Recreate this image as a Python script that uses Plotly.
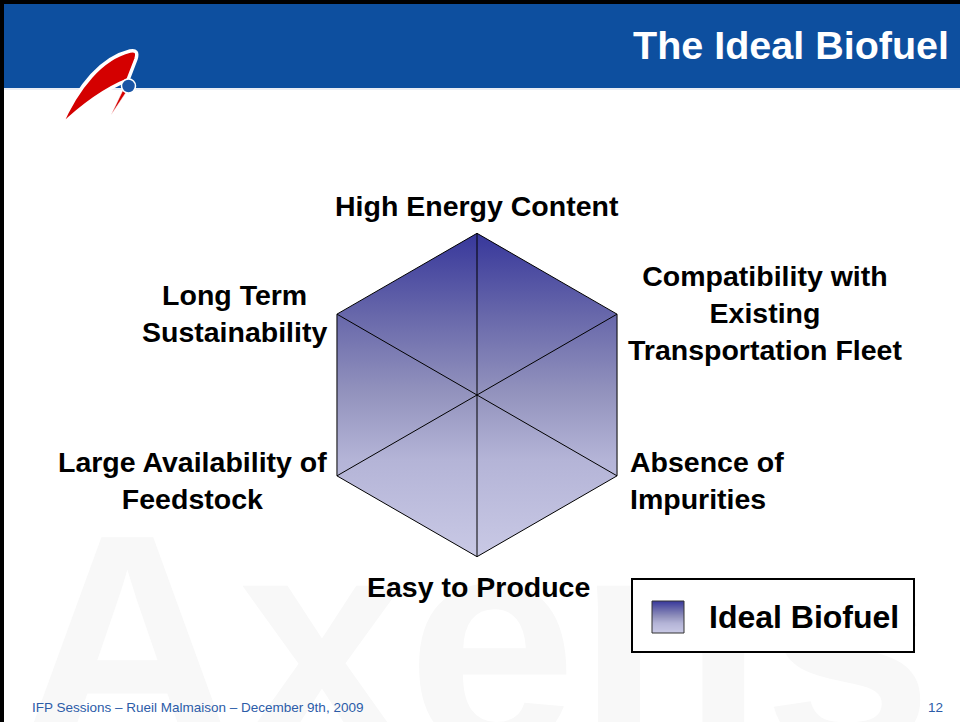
import numpy as np
import plotly.graph_objects as go
from plotly.colors import sample_colorscale

# radar axes, clockwise from the top
categories = [
    "High Energy Content",
    "Compatibility with Existing Transportation Fleet",
    "Absence of Impurities",
    "Easy to Produce",
    "Large Availability of Feedstock",
    "Long Term Sustainability",
]
tick_labels = [
    "High Energy Content",
    "Compatibility with<br>Existing<br>Transportation Fleet",
    "Absence of<br>Impurities",
    "Easy to Produce",
    "Large Availability of<br>Feedstock",
    "Long Term<br>Sustainability",
]
ideal_values = [5, 5, 5, 5, 5, 5]
scale_max = 5
series_name = "Ideal Biofuel"

title_text = "The Ideal Biofuel"
footer_text = "IFP Sessions \u2013 Rueil Malmaison \u2013 December 9th, 2009"
page_number = "12"
watermark = "Axens"

W, H = 960, 722
FONT = "Arial, 'Liberation Sans', Helvetica, sans-serif"
BLUE = "#0d4f9f"
GRADIENT = [
    [0.0, "#c9c9e5"],
    [0.3, "#b4b4d7"],
    [0.5, "#9494be"],
    [0.75, "#6767aa"],
    [1.0, "#37379b"],
]


def px(x):
    return x / W


def py(y):
    return 1 - y / H


# polar -> cartesian
theta = np.deg2rad(90 - 360 / len(categories) * np.arange(len(categories)))
vals = np.array(ideal_values, dtype=float)
xs = vals * np.cos(theta)
ys = vals * np.sin(theta)

spoke_x, spoke_y = [], []
for xv, yv in zip(xs, ys):
    spoke_x += [0, xv, None]
    spoke_y += [0, yv, None]

fig = go.Figure()

# hexagone avec dégradé
fig.add_trace(
    go.Scatter(
        x=np.append(xs, xs[0]),
        y=np.append(ys, ys[0]),
        mode="lines",
        fill="toself",
        fillgradient=dict(type="vertical", colorscale=GRADIENT),
        line=dict(color="black", width=1),
        name=series_name,
        showlegend=False,
        hoverinfo="skip",
    )
)

# rayons
fig.add_trace(
    go.Scatter(
        x=spoke_x,
        y=spoke_y,
        mode="lines",
        line=dict(color="black", width=1),
        showlegend=False,
        hoverinfo="skip",
    )
)

# centre du radar et échelle en pixels
cx, cy, radius_px = 477, 395, 161.7
k = radius_px / scale_max

shapes = [
    # watermark
    dict(type="rect", xref="paper", yref="paper",
         x0=px(30), x1=px(920), y0=py(735), y1=py(490),
         line=dict(width=0), fillcolor="rgba(0,0,0,0)", layer="below",
         label=dict(text=watermark, textposition="middle center",
                    font=dict(family=FONT, size=305, color="#f8f8f8", weight="bold"))),
    # header band
    dict(type="rect", xref="paper", yref="paper",
         x0=0, x1=1, y0=py(88), y1=py(4),
         line=dict(width=0), fillcolor=BLUE, layer="below"),
    dict(type="line", xref="paper", yref="paper",
         x0=0, x1=1, y0=py(89), y1=py(89),
         line=dict(color="#d5dcea", width=1)),
    # slide border
    dict(type="rect", xref="paper", yref="paper",
         x0=0, x1=1, y0=py(4), y1=1,
         line=dict(width=0), fillcolor="black"),
    dict(type="rect", xref="paper", yref="paper",
         x0=0, x1=px(4), y0=0, y1=1,
         line=dict(width=0), fillcolor="black"),
]


def path(points, close=True):
    s = ""
    for cmd, pts in points:
        s += cmd + " ".join(f"{px(a):.5f},{py(b):.5f}" for a, b in pts) + " "
    return s + ("Z" if close else "")


# logo
logo_horn = path([
    ("M", [(60, 127)]),
    ("C", [(78, 86), (102, 58), (130, 51)]),
    ("Q", [(139, 49), (136, 59)]),
    ("L", [(128, 80)]),
    ("C", [(108, 88), (84, 104), (60, 127)]),
])
logo_spike = path([
    ("M", [(123, 90)]),
    ("L", [(127, 91)]),
    ("L", [(111, 115)]),
])
shapes += [
    dict(type="path", xref="paper", yref="paper", path=logo_horn,
         fillcolor="#d40000", line=dict(color="white", width=3.5)),
    dict(type="path", xref="paper", yref="paper", path=logo_spike,
         fillcolor="#d40000", line=dict(color="white", width=0.5)),
    dict(type="circle", xref="paper", yref="paper",
         x0=px(121.5), x1=px(135.5), y0=py(93), y1=py(79),
         fillcolor="#1a55a5", line=dict(color="white", width=1.5)),
]

# légende (cadre + pastille en dégradé)
shapes.append(dict(type="rect", xref="paper", yref="paper",
                   x0=px(632), x1=px(914), y0=py(652), y1=py(579),
                   line=dict(color="black", width=2), fillcolor="white"))
n_strips = 32
strip_cols = sample_colorscale(GRADIENT, [1 - (i + 0.5) / n_strips for i in range(n_strips)])
for i, col in enumerate(strip_cols):
    shapes.append(dict(type="rect", xref="paper", yref="paper",
                       x0=px(652), x1=px(684),
                       y0=py(601 + (i + 1) * 32 / n_strips), y1=py(601 + i * 32 / n_strips),
                       line=dict(width=0), fillcolor=col))
shapes.append(dict(type="rect", xref="paper", yref="paper",
                   x0=px(652), x1=px(684), y0=py(633), y1=py(601),
                   line=dict(color="#333333", width=1), fillcolor="rgba(0,0,0,0)"))

label_font = dict(family=FONT, size=28.5, color="black", weight="bold")
label_pos = [
    (477, 206, "center"),
    (765, 313, "center"),
    (628, 480, "left"),
    (478, 587, "center"),
    (192, 480, "center"),
    (234, 313, "center"),
]
annotations = []
for text, (lx, ly, anchor) in zip(tick_labels, label_pos):
    annotations.append(dict(
        text=text, x=px(lx), y=py(ly), xref="paper", yref="paper",
        xanchor=anchor, yanchor="middle", align=anchor,
        showarrow=False, font=label_font,
    ))

annotations += [
    dict(text=series_name, x=px(707), y=py(617), xref="paper", yref="paper",
         xanchor="left", yanchor="middle", showarrow=False,
         font=dict(family=FONT, size=32, color="black", weight="bold")),
    dict(text=title_text, x=px(951), y=py(45), xref="paper", yref="paper",
         xanchor="right", yanchor="middle", showarrow=False,
         font=dict(family=FONT, size=39.5, color="white", weight="bold")),
    dict(text=footer_text, x=px(30), y=py(707), xref="paper", yref="paper",
         xanchor="left", yanchor="middle", showarrow=False,
         font=dict(family=FONT, size=13.5, color="#2c5ca8")),
    dict(text=page_number, x=px(945), y=py(707), xref="paper", yref="paper",
         xanchor="right", yanchor="middle", showarrow=False,
         font=dict(family=FONT, size=13.5, color="#2c5ca8")),
]

fig.update_layout(
    width=W,
    height=H,
    margin=dict(l=0, r=0, t=0, b=0),
    paper_bgcolor="white",
    plot_bgcolor="rgba(0,0,0,0)",
    xaxis=dict(visible=False, range=[-cx / k, (W - cx) / k], domain=[0, 1]),
    yaxis=dict(visible=False, range=[-(H - cy) / k, cy / k], domain=[0, 1]),
    showlegend=False,
    shapes=shapes,
    annotations=annotations,
)

fig.write_html("out.html", config={"displayModeBar": False},
               post_script="document.body.style.margin='0px';")
